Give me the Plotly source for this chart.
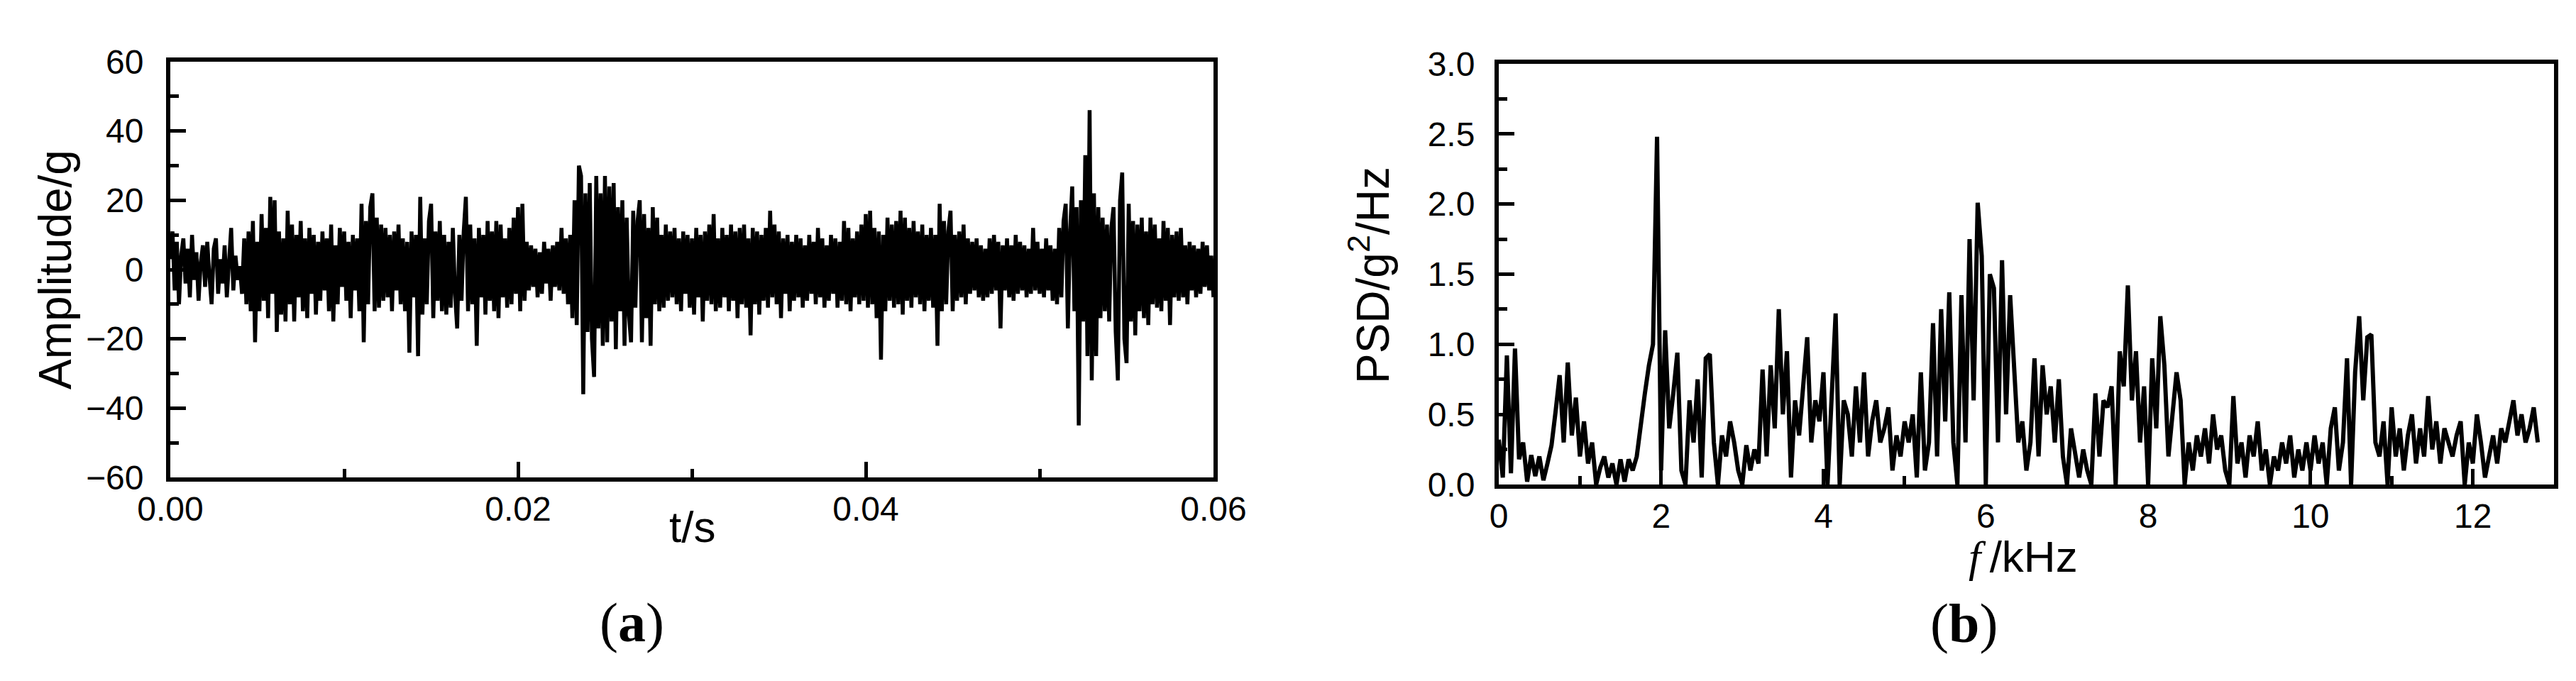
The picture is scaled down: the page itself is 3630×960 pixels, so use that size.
import plotly.graph_objects as go

W, H = 3630, 960

# ---------------- (a) time history: Amplitude/g, one row per millisecond (8 samples / ms)
t_step_ms = 0.125
amp_rows = [
    [3, 11, -6, 8, -10, 4, 9, -4],
    [6, -8, 10, -3, 5, -9, 2, 7],
    [-5, 8, -2, -10, 6, 9, -7, 3],
    [-4, 7, -8, 2, 12, -6, 4, -3],
    [1, -7, 9, -10, 11, -12, 14, -21],
    [8, -12, 16, -9, 12, -14, 21, -7],
    [20, -18, 11, -13, 9, -15, 17, -10],
    [13, -15, 10, -8, 14, -12, 9, -14],
    [12, -7, 10, -13, 8, -9, 11, -6],
    [9, -12, 13, -15, 7, -10, 12, -5],
    [11, -9, 8, -14, 10, -6, 9, -12],
    [19, -21, 14, -10, 18, 22, -12, 15],
    [-11, 13, -9, 12, -8, 10, -12, 11],
    [-6, 13, -10, 9, -12, 8, -24, 11],
    [-8, 10, -25, 21, -13, 9, -10, 14],
    [19, -14, 11, -9, 14, -12, 10, -13],
    [8, -11, 12, -7, -17, 10, -9, 11],
    [21, -12, 13, -10, 9, -22, 12, -8],
    [10, -13, 14, -9, 11, -12, 14, -14],
    [13, -8, 9, -11, 12, -10, 15, -7],
    [18, -12, 19, -9, 8, -6, 7, -5],
    [6, -8, 5, -7, 8, -4, 6, -9],
    [7, -5, 8, -6, 12, -7, 9, -10],
    [10, -14, 20, -16, 30, 27, -36, 22],
    [-18, 25, -20, -31, 27, -17, 22, -22],
    [27, -21, 24, -15, 25, -23, 18, -12],
    [20, -22, 15, -13, -21, 17, -11, 14],
    [20, -21, 16, -14, 12, -22, 18, -10],
    [15, -12, 10, -11, 13, -9, 11, -8],
    [12, -10, 9, -12, 11, -7, 10, -11],
    [9, -13, 12, -8, 10, -15, 11, -9],
    [13, -10, 16, -12, 9, -11, 12, -8],
    [10, -12, 13, -9, 11, -14, 12, -10],
    [13, -11, 9, -19, 12, -10, 11, -13],
    [10, -9, 12, -11, 17, -8, 13, -10],
    [11, -14, 9, -7, 10, -12, 8, -9],
    [10, -8, 9, -11, 7, -9, 10, -7],
    [8, -10, 12, -8, 9, -11, 7, -9],
    [10, -7, 9, -11, 8, -9, 14, -10],
    [12, -12, 9, -8, 11, -10, 13, -9],
    [16, -11, 17, -10, 12, -14, 11, -26],
    [10, -12, 15, -9, 13, -11, 14, -10],
    [17, -13, 15, -9, 12, -11, 14, -8],
    [11, -10, 13, -12, 10, -9, 12, -11],
    [10, -22, 19, -12, 14, -10, 11, 17],
    [-12, 10, -9, 11, -8, 13, -10, 9],
    [-7, 8, -6, 9, -8, 7, -9, 6],
    [-8, 9, -7, 10, -6, 8, -17, 7],
    [-6, 9, -8, 7, -9, 10, -7, 8],
    [-6, 7, -8, 6, -7, 12, -6, 8],
    [-7, 6, -8, 9, -6, 7, -9, 6],
    [-10, 12, -8, 14, 19, -17, 11, 24],
    [-12, 18, -45, 20, -15, 33, -25, 46],
    [-32, 22, -25, 18, -14, 15, -12, 13],
    [-15, 12, 18, -18, -32, 20, 28, -20],
    [-27, 19, -15, 14, -19, 13, -12, 15],
    [-14, 11, -16, 15, -10, 13, -11, 9],
    [-12, 14, -9, 12, -16, 10, -8, 11],
    [-9, 12, -8, 7, -10, 8, -6, 7],
    [-8, 6, -7, 8, -5, 7, -6, 4],
]
amp_last = [-8]
amplitude = [v for row in amp_rows for v in row] + amp_last
time_s = [i * t_step_ms / 1000.0 for i in range(len(amplitude))]

# ---------------- (b) PSD, one row per kHz (20 samples / kHz)
f_step_khz = 0.05
psd_rows = [
    [0.32, 0.05, 0.92, 0.08, 0.97, 0.18, 0.30, 0.02, 0.21, 0.06, 0.20, 0.03, 0.15, 0.28, 0.52, 0.78, 0.30, 0.87, 0.35, 0.62],
    [0.20, 0.45, 0.15, 0.30, 0.00, 0.12, 0.20, 0.05, 0.15, 0.00, 0.18, 0.02, 0.18, 0.10, 0.20, 0.45, 0.65, 0.85, 1.00, 2.48],
    [0.10, 1.10, 0.40, 0.65, 0.94, 0.10, 0.00, 0.60, 0.30, 0.75, 0.05, 0.90, 0.93, 0.30, 0.00, 0.35, 0.20, 0.45, 0.30, 0.10],
    [0.00, 0.28, 0.10, 0.25, 0.15, 0.82, 0.20, 0.85, 0.40, 1.25, 0.50, 0.95, 0.05, 0.60, 0.35, 0.70, 1.05, 0.30, 0.60, 0.45],
    [0.80, 0.00, 0.65, 1.22, 0.00, 0.60, 0.50, 0.20, 0.70, 0.30, 0.80, 0.20, 0.45, 0.60, 0.30, 0.40, 0.55, 0.10, 0.35, 0.20],
    [0.45, 0.30, 0.50, 0.05, 0.80, 0.10, 0.30, 1.15, 0.20, 1.25, 0.45, 1.37, 0.30, 0.00, 1.35, 0.30, 1.75, 0.60, 2.01, 1.63],
    [0.00, 1.50, 1.40, 0.30, 1.60, 0.50, 1.35, 0.85, 0.30, 0.45, 0.10, 0.30, 0.90, 0.20, 0.85, 0.50, 0.70, 0.30, 0.75, 0.20],
    [0.00, 0.40, 0.20, 0.05, 0.25, 0.10, 0.00, 0.65, 0.20, 0.60, 0.55, 0.70, 0.00, 0.95, 0.70, 1.42, 0.60, 0.95, 0.30, 0.70],
    [0.00, 0.90, 0.40, 1.20, 0.85, 0.20, 0.50, 0.80, 0.60, 0.00, 0.30, 0.10, 0.35, 0.20, 0.40, 0.15, 0.50, 0.25, 0.35, 0.10],
    [0.00, 0.63, 0.15, 0.30, 0.05, 0.35, 0.20, 0.45, 0.10, 0.25, 0.00, 0.20, 0.10, 0.30, 0.15, 0.35, 0.05, 0.25, 0.10, 0.30],
    [0.10, 0.35, 0.15, 0.30, 0.00, 0.40, 0.55, 0.10, 0.30, 0.90, 0.00, 0.80, 1.20, 0.60, 1.05, 1.07, 0.30, 0.20, 0.45, 0.00],
    [0.55, 0.20, 0.40, 0.10, 0.35, 0.50, 0.15, 0.40, 0.20, 0.63, 0.25, 0.45, 0.15, 0.40, 0.30, 0.20, 0.35, 0.45, 0.00, 0.30],
    [0.15, 0.50, 0.30, 0.05, 0.20, 0.35, 0.15, 0.40, 0.30, 0.45, 0.60, 0.35, 0.50, 0.30, 0.40, 0.55, 0.30],
]
psd = [v for row in psd_rows for v in row]
freq_khz = [i * f_step_khz for i in range(len(psd))]

# ---------------- tick labels
a_xticks = [0.0, 0.02, 0.04, 0.06]
a_xticklabels = ["0.00", "0.02", "0.04", "0.06"]
a_yticks = [-60, -40, -20, 0, 20, 40, 60]
b_xticks = [0, 2, 4, 6, 8, 10, 12]
b_yticks = [0.0, 0.5, 1.0, 1.5, 2.0, 2.5, 3.0]
b_yticklabels = ["0.0", "0.5", "1.0", "1.5", "2.0", "2.5", "3.0"]

SANS = "Liberation Sans, Arial, sans-serif"
SERIF = "Liberation Serif, Times New Roman, serif"

fig = go.Figure()
fig.add_trace(go.Scatter(x=time_s, y=amplitude, mode="lines",
                         line=dict(color="black", width=5.5), xaxis="x", yaxis="y",
                         showlegend=False))
fig.add_trace(go.Scatter(x=freq_khz, y=psd, mode="lines",
                         line=dict(color="black", width=6), xaxis="x2", yaxis="y2",
                         showlegend=False))


def ax(**kw):
    base = dict(showline=True, linecolor="black", linewidth=6, mirror=True,
                ticks="inside", ticklen=22, tickwidth=5, tickcolor="black",
                showgrid=False, zeroline=False, automargin=False,
                tickfont=dict(family=SANS, size=48, color="black"))
    base.update(kw)
    return base


def px_x(p):
    return p / W


def px_y(p):
    return 1 - p / H


MINOR = dict(ticks="inside", ticklen=12, tickwidth=5, tickcolor="black")

fig.update_layout(
    width=W, height=H, autosize=False,
    margin=dict(l=0, r=0, t=0, b=0),
    paper_bgcolor="white", plot_bgcolor="white",
    xaxis=ax(domain=[px_x(232), px_x(1702)], range=[0, 0.06], anchor="y",
             tickvals=a_xticks, ticktext=a_xticklabels, ticklabelstandoff=-3,
             minor=dict(dtick=0.01, **MINOR)),
    yaxis=ax(domain=[px_y(665), px_y(79)], range=[-60, 60], anchor="x",
             tickvals=a_yticks, ticklabelstandoff=22,
             minor=dict(dtick=10, **MINOR)),
    xaxis2=ax(domain=[px_x(2104), px_x(3591)], range=[0, 13], anchor="y2",
              tickvals=b_xticks, ticklabelstandoff=-3,
              minor=dict(dtick=1, **MINOR)),
    yaxis2=ax(domain=[px_y(675), px_y(82)], range=[0, 3.0], anchor="x2",
              tickvals=b_yticks, ticktext=b_yticklabels, ticklabelstandoff=18,
              minor=dict(dtick=0.25, **MINOR)),
)


def label(text, x, y, size, family=SANS, angle=0):
    fig.add_annotation(text=text, x=px_x(x), y=px_y(y), xref="paper", yref="paper",
                       xanchor="center", yanchor="middle", showarrow=False,
                       textangle=angle, font=dict(family=family, size=size, color="black"))


label("Amplitude/g", 70, 372, 64, angle=-90)
label("t/s", 967, 734, 62)
label("PSD/g<sup>2</sup>/Hz", 1922, 380, 64, angle=-90)
label("<i style='font-family:Liberation Serif, Times New Roman, serif'>f</i>\u2009/kHz",
      2843, 776, 62)
label("(<b>a</b>)", 882, 869, 78, family=SERIF)
label("(<b>b</b>)", 2759, 870, 78, family=SERIF)

fig.write_html("out.html")
